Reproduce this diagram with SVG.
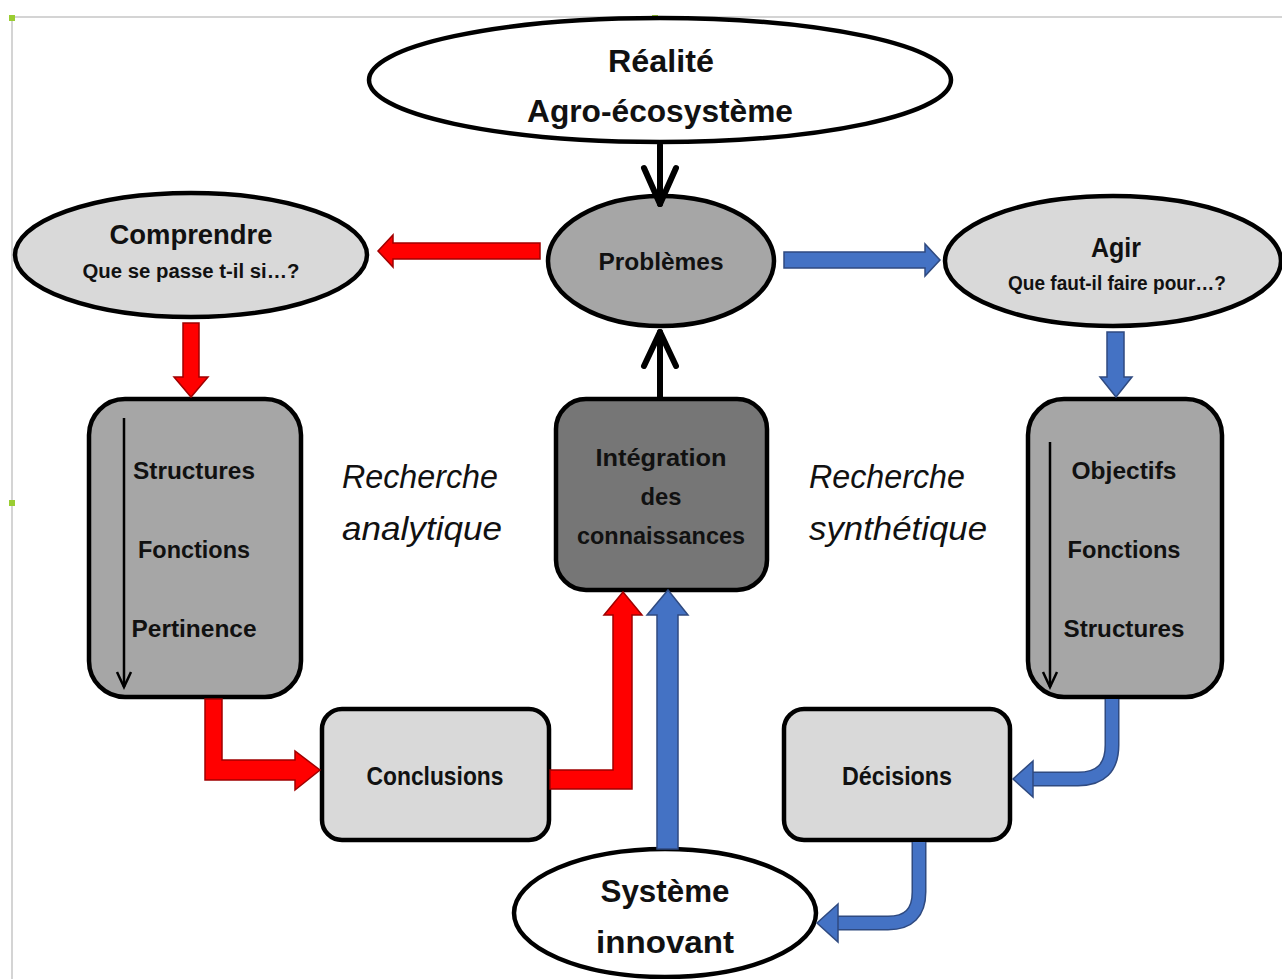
<svg xmlns="http://www.w3.org/2000/svg" width="1282" height="979" viewBox="0 0 1282 979">
<style>
.t{font-family:"Liberation Sans",Arial,sans-serif;font-weight:bold;fill:#111;text-anchor:middle}
.i{font-family:"Liberation Sans",Arial,sans-serif;font-style:italic;fill:#111}
.n{stroke:#000;stroke-width:4.5}
.red{fill:#ff0000;stroke:#a00000;stroke-width:1.5;stroke-linejoin:miter}
.blue{fill:#4472c4;stroke:#2f4a80;stroke-width:1.5}
.blk{stroke:#000;fill:none;stroke-width:6;stroke-linecap:round;stroke-linejoin:round}
.thin{stroke:#000;fill:none;stroke-width:2.5}
</style>
<rect width="1282" height="979" fill="#fff"/>
<g id="frame">
<line x1="12" y1="17" x2="1282" y2="17" stroke="#d4d4d4" stroke-width="2"/>
<line x1="12" y1="17" x2="12" y2="979" stroke="#d4d4d4" stroke-width="2"/>
<rect x="9" y="15" width="6" height="6" fill="#9acd32"/>
<rect x="652" y="15" width="6" height="6" fill="#9acd32"/>
<rect x="9" y="500" width="6" height="6" fill="#9acd32"/>
</g>
<g id="realite">
<ellipse class="n" cx="660" cy="80" rx="291" ry="62" fill="#fff"/>
<text class="t" x="661" y="72" font-size="32" textLength="106" lengthAdjust="spacingAndGlyphs">Réalité</text>
<text class="t" x="660" y="122" font-size="32" textLength="266" lengthAdjust="spacingAndGlyphs">Agro-écosystème</text>
</g>
<g id="problemes">
<ellipse class="n" cx="661" cy="261" rx="113" ry="65" fill="#a6a6a6"/>
<text class="t" x="661" y="270" font-size="24" textLength="125" lengthAdjust="spacingAndGlyphs">Problèmes</text>
</g>
<g id="comprendre">
<ellipse class="n" cx="191" cy="255" rx="176" ry="62" fill="#d9d9d9"/>
<text class="t" x="191" y="244" font-size="28" textLength="163" lengthAdjust="spacingAndGlyphs">Comprendre</text>
<text class="t" x="191" y="278" font-size="20" textLength="217" lengthAdjust="spacingAndGlyphs">Que se passe t-il si…?</text>
</g>
<g id="agir">
<ellipse class="n" cx="1113" cy="261" rx="168" ry="65" fill="#d9d9d9"/>
<text class="t" x="1116" y="257" font-size="28" textLength="50" lengthAdjust="spacingAndGlyphs">Agir</text>
<text class="t" x="1117" y="290" font-size="20" textLength="218" lengthAdjust="spacingAndGlyphs">Que faut-il faire pour…?</text>
</g>
<g id="analyse">
<rect class="n" x="89" y="399" width="212" height="298" rx="36" fill="#a6a6a6"/>
<text class="t" x="194" y="479" font-size="24" textLength="122" lengthAdjust="spacingAndGlyphs">Structures</text>
<text class="t" x="194" y="558" font-size="24" textLength="112" lengthAdjust="spacingAndGlyphs">Fonctions</text>
<text class="t" x="194" y="637" font-size="24" textLength="125" lengthAdjust="spacingAndGlyphs">Pertinence</text>
<line class="thin" x1="124" y1="418" x2="124" y2="687"/>
<polyline class="thin" points="117,672 124,687 131,672"/>
</g>
<g id="integration">
<rect class="n" x="556" y="399" width="211" height="191" rx="30" fill="#767676"/>
<text class="t" x="661" y="466" font-size="24" textLength="131" lengthAdjust="spacingAndGlyphs">Intégration</text>
<text class="t" x="661" y="505" font-size="24" textLength="41" lengthAdjust="spacingAndGlyphs">des</text>
<text class="t" x="661" y="544" font-size="24" textLength="168" lengthAdjust="spacingAndGlyphs">connaissances</text>
</g>
<g id="synthese">
<rect class="n" x="1028" y="399" width="194" height="298" rx="36" fill="#a6a6a6"/>
<text class="t" x="1124" y="479" font-size="24" textLength="105" lengthAdjust="spacingAndGlyphs">Objectifs</text>
<text class="t" x="1124" y="558" font-size="24" textLength="113" lengthAdjust="spacingAndGlyphs">Fonctions</text>
<text class="t" x="1124" y="637" font-size="24" textLength="121" lengthAdjust="spacingAndGlyphs">Structures</text>
<line class="thin" x1="1050" y1="442" x2="1050" y2="687"/>
<polyline class="thin" points="1043,672 1050,687 1057,672"/>
</g>
<g id="labels">
<text class="i" x="342" y="488" font-size="33" textLength="156" lengthAdjust="spacingAndGlyphs">Recherche</text>
<text class="i" x="342" y="540" font-size="33" textLength="160" lengthAdjust="spacingAndGlyphs">analytique</text>
<text class="i" x="809" y="488" font-size="33" textLength="156" lengthAdjust="spacingAndGlyphs">Recherche</text>
<text class="i" x="809" y="540" font-size="33" textLength="178" lengthAdjust="spacingAndGlyphs">synthétique</text>
</g>
<g id="conclusions">
<rect class="n" x="322" y="709" width="227" height="131" rx="20" fill="#d9d9d9"/>
<text class="t" x="435" y="785" font-size="25" textLength="137" lengthAdjust="spacingAndGlyphs">Conclusions</text>
</g>
<g id="decisions">
<rect class="n" x="784" y="709" width="226" height="131" rx="20" fill="#d9d9d9"/>
<text class="t" x="897" y="785" font-size="25" textLength="110" lengthAdjust="spacingAndGlyphs">Décisions</text>
</g>
<g id="systeme">
<ellipse class="n" cx="665" cy="913" rx="151" ry="64" fill="#fff"/>
<text class="t" x="665" y="902" font-size="32" textLength="129" lengthAdjust="spacingAndGlyphs">Système</text>
<text class="t" x="665" y="953" font-size="32" textLength="138" lengthAdjust="spacingAndGlyphs">innovant</text>
</g>
<g id="connectors">
<line class="blk" x1="660" y1="145" x2="660" y2="204"/>
<polyline class="blk" points="644,168 660,204 676,168"/>
<line class="blk" x1="660" y1="397" x2="660" y2="332"/>
<polyline class="blk" points="644,366 660,332 676,366"/>
<polygon class="red" points="540,243 393,243 393,235 378,251 393,267 393,259 540,259"/>
<polygon class="blue" points="784,252 925,252 925,244 940,260 925,276 925,268 784,268"/>
<polygon class="red" points="183,323 199,323 199,377 208,377 191,397 174,377 183,377"/>
<polygon class="blue" points="1107,332 1124,332 1124,377 1132,377 1116,397 1100,377 1107,377"/>
<polygon class="red" points="205,699 222,699 222,760 295,760 295,751 320,770 295,790 295,780 205,780"/>
<polygon class="red" points="550,770 613,770 613,615 604,615 623,592 642,615 632,615 632,789 550,789"/>
<polygon class="blue" points="657,849 657,615 647,615 668,590 688,615 678,615 678,849"/>
<path d="M1112,699 L1112,745 Q1112,779 1078,779 L1031,779" fill="none" stroke="#2f4a80" stroke-width="15"/>
<path d="M1112,699 L1112,745 Q1112,779 1078,779 L1031,779" fill="none" stroke="#4472c4" stroke-width="12"/>
<polygon class="blue" points="1033,761 1013,779 1033,797"/>
<path d="M919,842 L919,892 Q919,923 888,923 L836,923" fill="none" stroke="#2f4a80" stroke-width="15"/>
<path d="M919,842 L919,892 Q919,923 888,923 L836,923" fill="none" stroke="#4472c4" stroke-width="12"/>
<polygon class="blue" points="838,904 817,923 838,942"/>
</g>
</svg>
